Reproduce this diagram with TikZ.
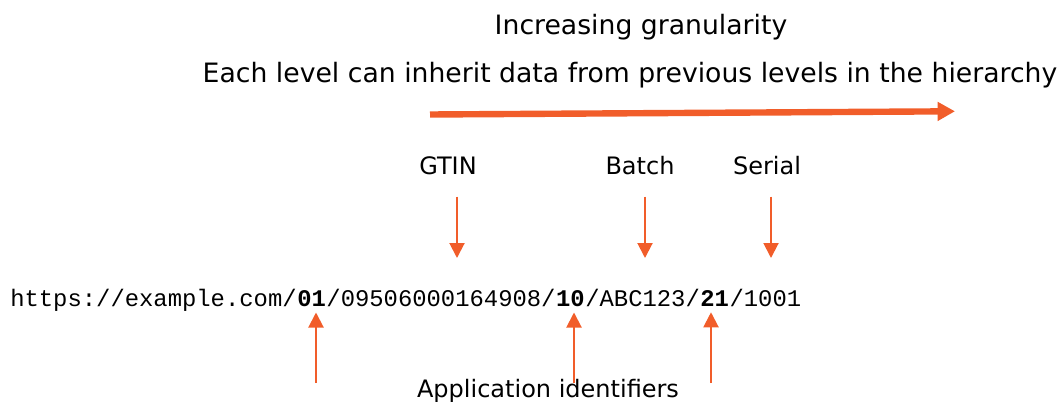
\documentclass[tikz,border=0pt]{standalone}
\usepackage{fontspec}
\setmainfont{DejaVu Sans}
\setmonofont{Liberation Mono}
\usetikzlibrary{arrows.meta,positioning}
\definecolor{linkorange}{RGB}{241,93,42}
\tikzset{
  heading/.style={font=\fontsize{20}{24}\selectfont, inner sep=0pt, anchor=base},
  caption/.style={font=\fontsize{18}{21}\selectfont, inner sep=0pt, anchor=base},
  urlpart/.style={font=\ttfamily\fontsize{17.9}{21}\selectfont, inner sep=0pt, anchor=base west},
  aipart/.style={urlpart, font=\ttfamily\bfseries\fontsize{17.9}{21}\selectfont},
  pointer/.style={linkorange, line width=1.5pt, -{Triangle[length=11.25pt,width=11.25pt]}},
  trend/.style={linkorange, line width=4.8pt, -{Triangle[length=13pt,width=13.5pt]}}
}
\begin{document}
\begin{tikzpicture}[x=0.75pt,y=-0.75pt]
\useasboundingbox (0,0) rectangle (1062,403);
% headings and the granularity arrow
\node[heading] (title) at (641,35) {Increasing granularity};
\node[heading] (subtitle) at (630,83) {Each level can inherit data from previous levels in the hierarchy};
\coordinate (trend start) at (430,114.5);
\coordinate (trend end) at (955,111.3);
\draw[trend] (trend start) -- (trend end);
% the digital link, piece by piece
\node[urlpart] (domain) at (10,306) {https://example.com/};
\node[aipart] (ai01) at (domain.base east) {01};
\node[urlpart] (gtinval) at (ai01.base east) {/09506000164908/};
\node[aipart] (ai10) at (gtinval.base east) {10};
\node[urlpart] (batchval) at (ai10.base east) {/ABC123/};
\node[aipart] (ai21) at (batchval.base east) {21};
\node[urlpart] (serialval) at (ai21.base east) {/1001};
% key qualifiers above
\node[caption] (gtin) at (448,174) {GTIN};
\node[caption] (batch) at (640,174) {Batch};
\node[caption] (serial) at (767,174) {Serial};
\coordinate (gtin tip) at (457,258);
\coordinate (batch tip) at (645,258);
\coordinate (serial tip) at (771,258);
\draw[pointer] ([yshift=-16.5pt]gtin.south -| gtin tip) -- (gtin tip);
\draw[pointer] ([yshift=-16.5pt]batch.south -| batch tip) -- (batch tip);
\draw[pointer] ([yshift=-16.5pt]serial.south -| serial tip) -- (serial tip);
% application identifiers below
\node[caption] (ais) at (548,397) {Application identifiers};
\coordinate (foot01) at (316,383);
\coordinate (foot10) at (574,383);
\coordinate (foot21) at (711,383);
\draw[pointer] (foot01) -- ([yshift=-4.5pt]ai01.south -| foot01);
\draw[pointer] (foot10) -- ([yshift=-4.5pt]ai10.south -| foot10);
\draw[pointer] (foot21) -- ([yshift=-4.5pt]ai21.south -| foot21);
\end{tikzpicture}
\end{document}
